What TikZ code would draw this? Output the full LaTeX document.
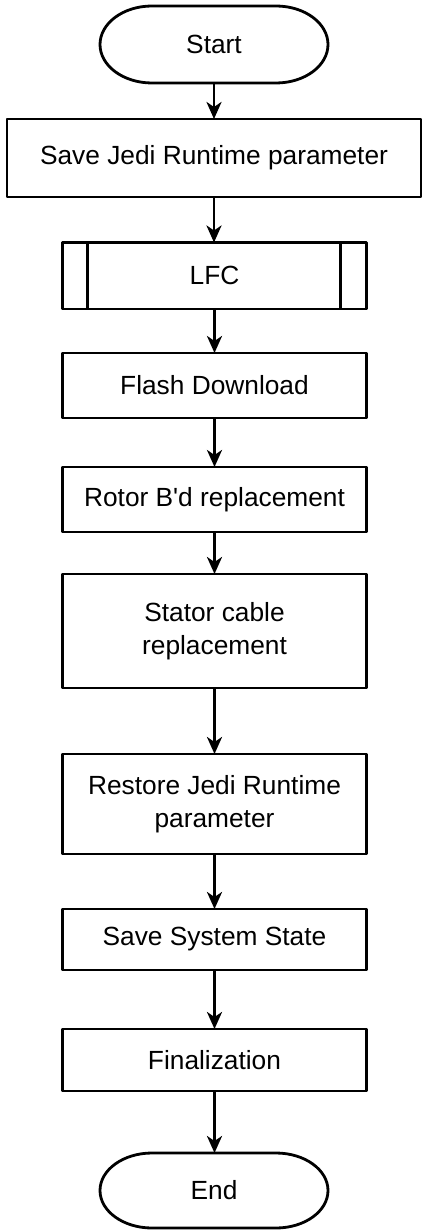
\documentclass[tikz,border=0pt]{standalone}
\usepackage{fontspec}
\setmainfont{Liberation Sans}
\usetikzlibrary{arrows.meta}
\begin{document}
\begin{tikzpicture}[x=1pt,y=1pt,
  line/.style={line width=2.8pt, line join=round},
  box/.style={draw, line, minimum width=304pt, inner sep=0pt, outer sep=0pt, align=center,
    font=\fontsize{26.3}{33}\selectfont},
  term/.style={minimum width=228pt, minimum height=77pt, inner sep=0pt, outer sep=0pt,
    font=\fontsize{26.3}{33}\selectfont},
  arr/.style={line, -{Stealth[length=17pt, width=15pt, inset=5pt]}}
]
\useasboundingbox (0,0) rectangle (422,-1230);

\node[term] (start) at (214,-44.5) {Start};
\draw[line] ([xshift=52pt]start.north west) -- ([xshift=-52pt]start.north east)
  arc[start angle=90, end angle=-90, x radius=52pt, y radius=38.5pt]
  -- ([xshift=52pt]start.south west)
  arc[start angle=270, end angle=90, x radius=52pt, y radius=38.5pt] -- cycle;

\node[box, minimum width=414pt, minimum height=78pt] (s1) at (214,-158) {Save Jedi Runtime parameter};
\node[box, minimum height=66.5pt] (lfc) at (214.5,-275.75) {LFC};
\draw[line] ([xshift=25pt]lfc.north west) -- ([xshift=25pt]lfc.south west);
\draw[line] ([xshift=-26pt]lfc.north east) -- ([xshift=-26pt]lfc.south east);
\node[box, minimum height=65pt] (flash) at (214.5,-385.5) {Flash Download};
\node[box, minimum height=65pt] (rotor) at (214.5,-499.5) {Rotor B\textquotesingle d replacement};
\node[box, minimum height=114pt] (stator) at (214.5,-631) {Stator cable\\replacement};
\node[box, minimum height=100pt] (restore) at (214.5,-804) {Restore Jedi Runtime\\parameter};
\node[box, minimum height=61pt] (sss) at (214.5,-939.5) {Save System State};
\node[box, minimum height=62pt] (fin) at (214.5,-1060) {Finalization};

\node[term, minimum height=75pt] (end) at (214,-1190.5) {End};
\draw[line] ([xshift=52pt]end.north west) -- ([xshift=-52pt]end.north east)
  arc[start angle=90, end angle=-90, x radius=52pt, y radius=37.5pt]
  -- ([xshift=52pt]end.south west)
  arc[start angle=270, end angle=90, x radius=52pt, y radius=37.5pt] -- cycle;

\draw[arr] (start.south) -- (s1.north);
\draw[arr] (s1.south) -- (s1.south |- lfc.north);
\draw[arr] (lfc) -- (flash);
\draw[arr] (flash) -- (rotor);
\draw[arr] (rotor) -- (stator);
\draw[arr] (stator) -- (restore);
\draw[arr] (restore) -- (sss);
\draw[arr] (sss) -- (fin);
\draw[arr] (fin.south) -- (fin.south |- end.north);
\end{tikzpicture}
\end{document}
